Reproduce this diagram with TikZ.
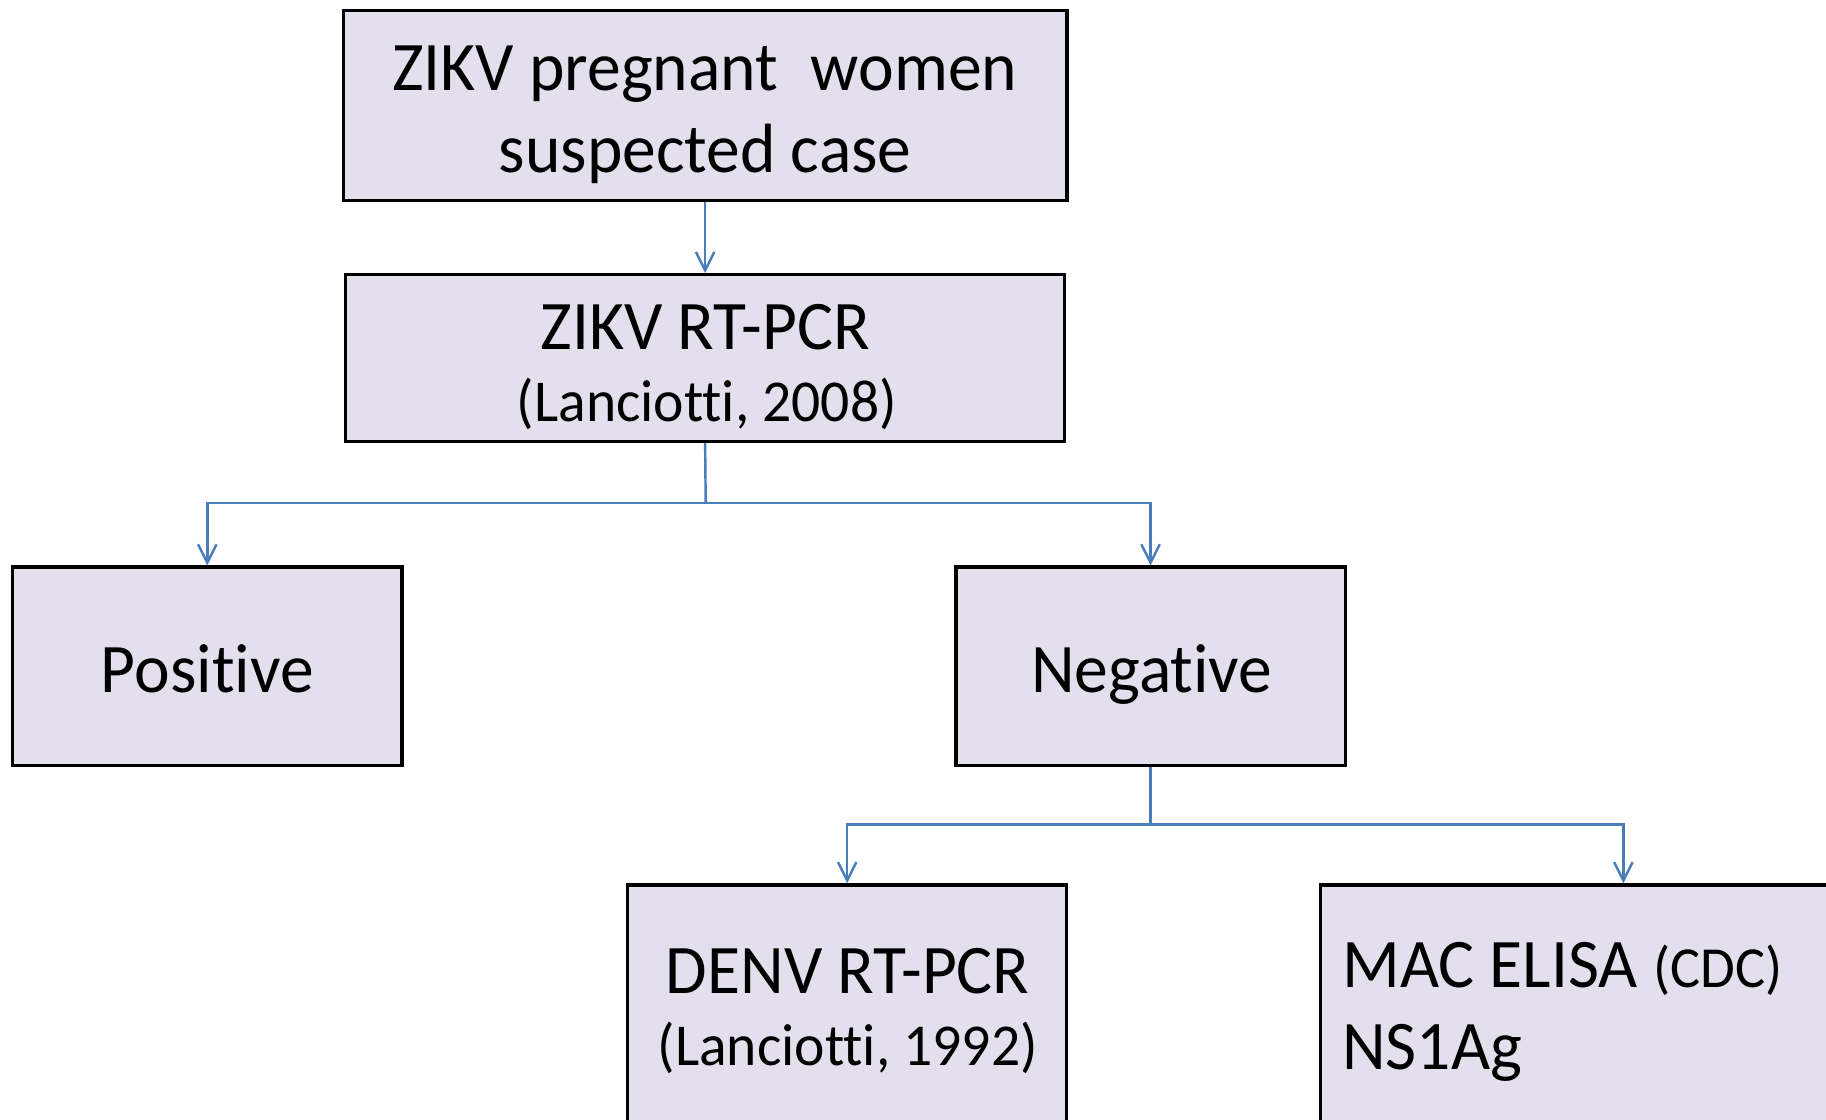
\documentclass[tikz,border=0pt]{standalone}
\usepackage{fontspec}
\setmainfont{Carlito}[Ligatures={NoCommon}, FakeStretch=0.97]
\usetikzlibrary{arrows.meta}
\definecolor{boxfill}{HTML}{E4DFEC}
\definecolor{connblue}{HTML}{4A7EBB}
\tikzset{
  box/.style={draw=black, line width=0.8pt, fill=boxfill, rectangle, inner sep=0pt},
  conn/.style={draw=connblue, line width=0.6pt},
  arr/.style={conn, -{Straight Barb[length=4.5pt,width=4.5pt]}},
  big/.style={font=\fontsize{17}{20}\selectfont, inner sep=0pt, anchor=base},
  mid/.style={font=\fontsize{14.5}{17}\selectfont, inner sep=0pt, anchor=base},
}
\begin{document}
\begin{tikzpicture}[x=0.01cm,y=-0.01cm]
\useasboundingbox (0,0) rectangle (1568,961);
\clip (0,0) rectangle (1568,961);
% boxes
\node[box, minimum width=6.21cm, minimum height=1.63cm] (top) at (605.5,90.5) {};
\node[box, minimum width=6.17cm, minimum height=1.43cm] (rt) at (605.5,307.5) {};
\node[box, minimum width=3.34cm, minimum height=1.70cm] (pos) at (178,572) {};
\node[box, minimum width=3.34cm, minimum height=1.70cm] (neg) at (988,572) {};
\node[box, minimum width=3.77cm, minimum height=2.60cm] (denv) at (727.5,890) {};
\node[box, minimum width=5.20cm, minimum height=2.60cm] (mac) at (1394,890) {};
% texts
\node[big] (t1) at (605,78) {ZIKV pregnant\hspace{0.25em} women};
\node[big] (t2) at (605.5,148) {suspected case};
\node[big] (t3) at (605.5,300) {ZIKV RT-PCR};
\node[mid] (t4) at (607,362) {(Lanciotti, 2008)};
\node[big] (t5) at (178,595) {Positive};
\node[big] (t6) at (989,595) {Negative};
\node[big] (t7) at (728,853) {DENV RT-PCR};
\node[mid] (t8) at (728,915) {(Lanciotti, 1992)};
\node[big, anchor=base west] (t9) at (1152,848) {MAC ELISA {\fontsize{14.2}{16}\selectfont (CDC)}};
\node[big, anchor=base west] (t10) at (1152,918) {NS1Ag};
% connectors
\coordinate (b1) at (606,432);
\coordinate (b2) at (988,708);
\draw[arr] (top.south) -- (rt.north);
\draw[conn] (rt.south) -- (b1);
\draw[arr] (b1) -| (pos.north);
\draw[arr] (b1) -| (neg.north);
\draw[conn] (neg.south) -- (b2);
\draw[arr] (b2) -| (denv.north);
\draw[arr] (b2) -| (mac.north);
\end{tikzpicture}
\end{document}
